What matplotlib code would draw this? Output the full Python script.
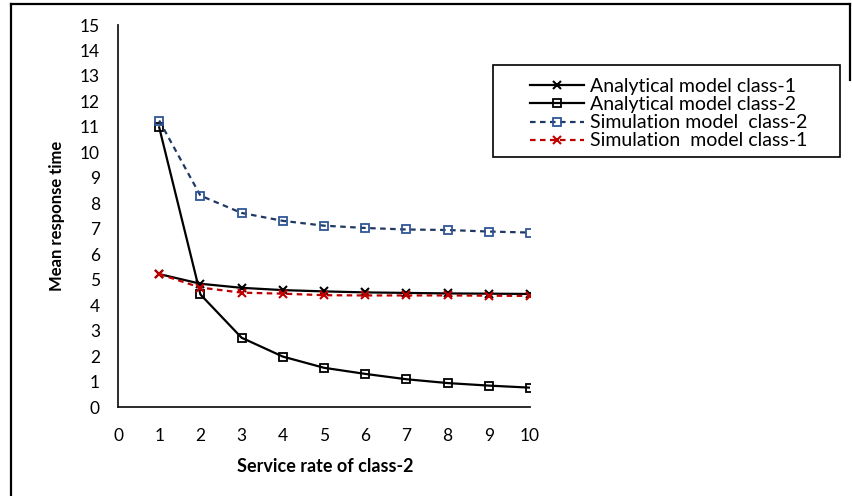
import matplotlib.pyplot as plt
from matplotlib.lines import Line2D
from matplotlib.patches import Rectangle

plt.rcParams["font.family"] = ["Lato", "DejaVu Sans"]

# service rate of class-2
rate = [1, 2, 3, 4, 5, 6, 7, 8, 9, 10]

# mean response times
analytic_c1 = [5.22, 4.84, 4.68, 4.59, 4.54, 4.50, 4.48, 4.46, 4.45, 4.44]
analytic_c2 = [10.98, 4.42, 2.72, 1.98, 1.54, 1.30, 1.09, 0.94, 0.84, 0.76]
sim_c2 = [11.25, 8.30, 7.62, 7.31, 7.12, 7.03, 6.97, 6.95, 6.89, 6.85]
sim_c1 = [5.22, 4.69, 4.49, 4.45, 4.39, 4.38, 4.38, 4.38, 4.37, 4.36]

W, H = 852, 496
fig = plt.figure(figsize=(W / 100, H / 100), dpi=100)
ax = fig.add_axes([118 / W, (H - 407) / H, (530 - 118) / W, (407 - 25) / H])

ax.plot(rate, analytic_c1, color="black", lw=1.6, marker="x", ms=6, mew=1.5,
        label="Analytical model class-1")
ax.plot(rate, analytic_c2, color="black", lw=1.6, marker="s", ms=6, mew=1.3,
        mfc="none", label="Analytical model class-2")
ax.plot(rate, sim_c2, color="#1F3864", lw=1.6, ls=(0, (2.5, 2)), marker="s",
        ms=6, mew=1.3, mfc="none", mec="#2F5597", label="Simulation model  class-2")
ax.plot(rate, sim_c1, color="#C00000", lw=1.6, ls=(0, (2.5, 2)), marker="x",
        ms=6, mew=1.5, label="Simulation  model class-1")

ax.set_xlim(0, 10)
ax.set_ylim(0, 15)
ax.set_xticks(range(0, 11))
ax.set_yticks(range(0, 16))
ax.tick_params(axis="both", length=0, labelsize=12.5, colors="black")
ax.tick_params(axis="y", pad=13)
ax.tick_params(axis="x", pad=15)
for side in ("top", "right"):
    ax.spines[side].set_visible(False)
for side in ("left", "bottom"):
    ax.spines[side].set_linewidth(1.3)
    ax.spines[side].set_color("#1a1a1a")

fig.text(325 / W, 1 - 466 / H, "Service rate of class-2", ha="center",
         va="center", fontsize=13, fontweight="bold")
fig.text(57 / W, 1 - 216 / H, "Mean response time", ha="center", va="center",
         rotation=90, fontsize=12, fontweight="bold")

# legend entries without frame, boxed separately
leg = fig.legend(loc="upper left", bbox_to_anchor=(530 / W, 1 - 78 / H),
                 fontsize=14, frameon=False, handlelength=2.8,
                 handletextpad=0.3, labelspacing=0.06, borderpad=0,
                 borderaxespad=0)
fig.add_artist(Rectangle((493 / W, 1 - 157 / H), (840 - 493) / W, (157 - 65) / H,
                         transform=fig.transFigure, fill=False,
                         edgecolor="black", lw=1.2))

# outer frame
frame_kw = dict(color="black", lw=1.6, transform=fig.transFigure)
fig.add_artist(Line2D([11 / W, 11 / W], [0, 1 - 4 / H], **frame_kw))
fig.add_artist(Line2D([11 / W, 850 / W], [1 - 4 / H, 1 - 4 / H], **frame_kw))
fig.add_artist(Line2D([850 / W, 850 / W], [1 - 4 / H, 1 - 80 / H], **frame_kw))

fig.savefig("out.png", dpi=100)
